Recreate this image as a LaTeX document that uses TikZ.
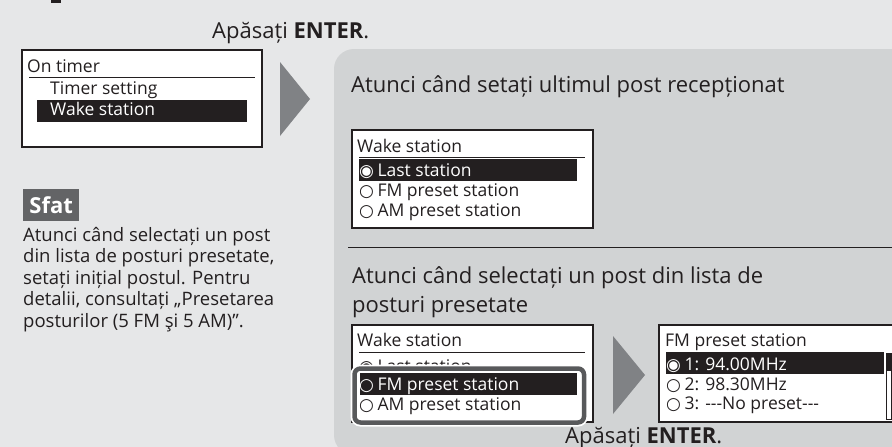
\documentclass[tikz,border=0pt]{standalone}
\usepackage{fontspec}
\setmainfont{Open Sans}
\newfontfamily\symfont{DejaVu Sans}
\usetikzlibrary{positioning}

\definecolor{pagegray}{HTML}{E6E7E8}
\definecolor{panelgray}{HTML}{D1D3D4}
\definecolor{arrowgray}{HTML}{808285}
\definecolor{framegray}{HTML}{58595B}
\definecolor{tipgray}{HTML}{636466}
\definecolor{inkdark}{HTML}{231F20}

\newcommand{\radiooff}{{\symfont\fontsize{17}{17}\selectfont\char"25CB}\hspace{3.5pt}}
\newcommand{\radioon}{{\symfont\fontsize{17}{17}\selectfont\char"25C9}\hspace{3.5pt}}

\tikzset{
  heading/.style={inner sep=0pt, anchor=base west, text=inkdark, font=\fontsize{22}{26}\selectfont},
  scrtext/.style={inner sep=0pt, anchor=base west, text=inkdark, font=\fontsize{17.5}{20}\selectfont},
  scrsel/.style={scrtext, text=white},
  screen/.style={draw=inkdark, line width=1.2pt, fill=white},
  selbar/.style={fill=inkdark},
  nextarrow/.style={fill=arrowgray},
}

\begin{document}
\begin{tikzpicture}[x=1pt,y=-1pt]
\useasboundingbox (0,0) rectangle (892,447);
\clip (0,0) rectangle (892,447);
\fill[pagegray] (0,0) rectangle (892,447);
\fill[inkdark] (51,0) rectangle (61,3);

% step header
\node[heading] (press1) at (212,38) {Apăsați \textbf{ENTER}.};

% on timer screen
\draw[screen] (22,50) rectangle (262,147);
\node[scrtext] (ontimer) at (27,72) {On timer};
\draw[inkdark, line width=0.8pt] (29,77) -- (255,77);
\node[scrtext] (timerset) at (50,94) {Timer setting};
\fill[selbar] (37,100) rectangle (247,122);
\node[scrsel] (wakesel) at (50,115) {Wake station};

\fill[nextarrow] (280,62) -- (310,99) -- (280,136) -- cycle;

% tip
\node[fill=tipgray, text=white, font=\fontsize{22}{24}\selectfont\bfseries,
  minimum width=56, minimum height=32, inner sep=0pt, anchor=north west] (sfat) at (23,189) {Sfat};
\node[inner sep=0pt, anchor=north west, align=left, text=inkdark,
  font=\fontsize{18.5}{21.5}\selectfont] (tiptext) at (23,227)
  {Atunci când selectați un post\\din lista de posturi presetate,\\setați inițial postul. Pentru\\detalii, consultați „Presetarea\\posturilor (5 FM şi 5 AM)”.};

% right panel
\fill[panelgray, rounded corners=20] (334,49) rectangle (920,455);

\node[heading] (lastcase) at (351,92) {Atunci când setați ultimul post recepționat};

\draw[screen] (352,130) rectangle (593,228);
\node[scrtext] (wake1) at (357,152) {Wake station};
\draw[inkdark, line width=0.8pt] (359,157) -- (585,157);
\fill[selbar] (359,159) rectangle (577,181);
\node[scrsel] (last1) at (359,176) {\radioon Last station};
\node[scrtext] (fm1) at (359,196) {\radiooff FM preset station};
\node[scrtext] (am1) at (359,216) {\radiooff AM preset station};

\draw[inkdark, line width=1pt] (348,247) -- (892,247);

\node[heading] (presetcase) at (352,283) {Atunci când selectați un post din lista de};
\node[heading] (presetcase2) at (352,312) {posturi presetate};

\draw[screen] (352,325) rectangle (593,422);
\node[scrtext] (wake2) at (357,346) {Wake station};
\draw[inkdark, line width=0.8pt] (359,352) -- (585,352);
\node[scrtext] (last2) at (359,372) {\radioon Last station};
\draw[white, line width=8pt, rounded corners=6] (354.5,368.5) rectangle (584,422.5);
\draw[framegray, line width=4.5pt, fill=white, rounded corners=6] (354.5,368.5) rectangle (584,422.5);
\fill[selbar] (360,373) rectangle (577,395);
\node[scrsel] (fm2) at (359,390) {\radiooff FM preset station};
\node[scrtext] (am2) at (359,410) {\radiooff AM preset station};

\fill[nextarrow] (613,336) -- (645,375) -- (613,414) -- cycle;

\draw[screen] (659,325) rectangle (905,422);
\node[scrtext] (fmlist) at (665,346) {FM preset station};
\fill[selbar] (666,352) rectangle (884,374);
\node[scrsel] (ch1) at (666,370) {\radioon 1: 94.00MHz};
\node[scrtext] (ch2) at (666,390) {\radiooff 2: 98.30MHz};
\node[scrtext] (ch3) at (666,409) {\radiooff 3: -{}-{}-No preset-{}-{}-};
\draw[inkdark, line width=0.8pt] (886,353) rectangle (891,419);
\fill[inkdark] (886,353) rectangle (891,371);

\node[heading] (press2) at (565,443) {Apăsați \textbf{ENTER}.};
\end{tikzpicture}
\end{document}
